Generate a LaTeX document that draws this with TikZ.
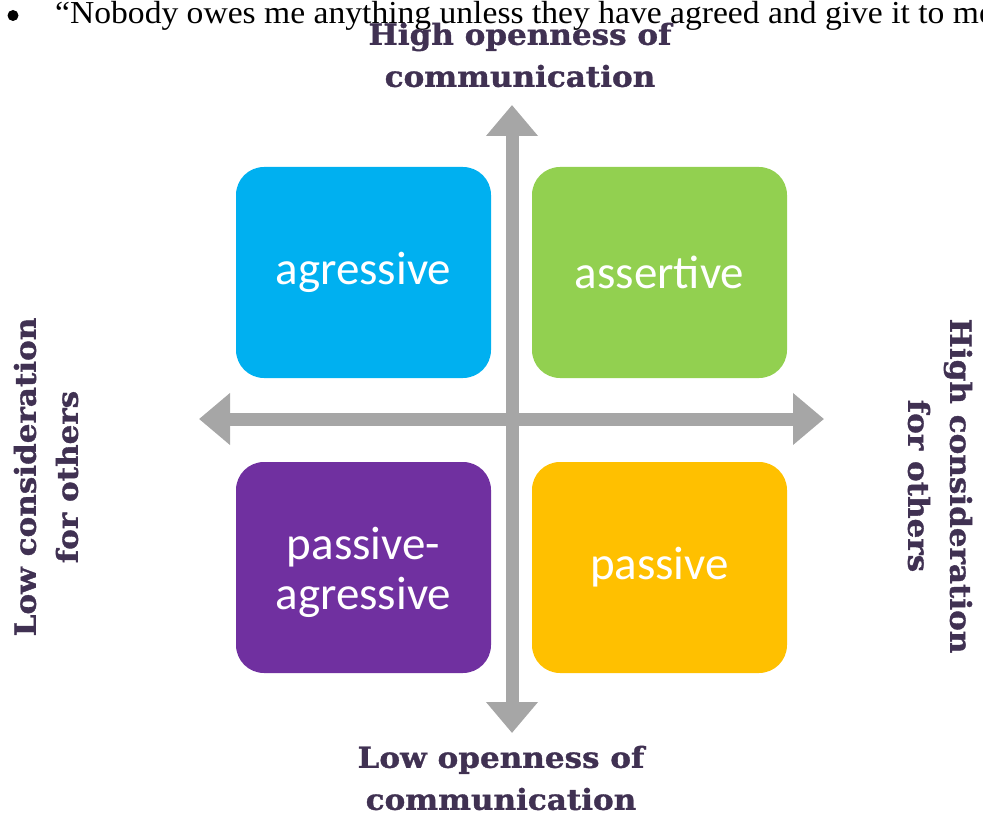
\documentclass[tikz,border=0pt]{standalone}
\usepackage{fontspec}
\usetikzlibrary{arrows.meta}
\setmainfont{Liberation Serif}[FakeStretch=1.05]
\newfontfamily\boxfont{Carlito}
\newfontfamily\axisfont{DejaVu Serif Bold}[FakeStretch=1.07, FakeBold=1.2]

\definecolor{aggrblue}{HTML}{00B0F0}
\definecolor{assertgreen}{HTML}{92D050}
\definecolor{pagpurple}{HTML}{7030A0}
\definecolor{passgold}{HTML}{FFC000}
\definecolor{axisgray}{HTML}{A6A6A6}
\definecolor{labelplum}{HTML}{403152}

\tikzset{
  x=1pt, y=-1pt,
  quadrant/.style={rounded corners=28pt, minimum width=255pt, minimum height=211pt,
    inner sep=0pt, text=white, align=center,
    font=\boxfont\fontsize{47}{50}\selectfont},
  axisarrow/.style={draw=axisgray, line width=13pt,
    {Triangle[width=50pt,length=31pt]}-{Triangle[width=50pt,length=31pt]}},
  axislabel/.style={text=labelplum, align=center, inner sep=0pt,
    font=\axisfont\fontsize{29}{42}\selectfont},
  bodytext/.style={inner sep=0pt, font=\fontsize{32}{38}\selectfont},
  bulletdot/.style={circle, fill=black, inner sep=0pt, minimum size=11pt}
}

\begin{document}
\begin{tikzpicture}
\useasboundingbox (0,0) rectangle (983,813);
\clip (0,0) rectangle (983,813);

% bullet line of the surrounding text
\node[bulletdot] (bullet) at (13,15.5) {};
\node[bodytext, anchor=base west] (quote) at (55,24)
  {“Nobody owes me anything unless they have agreed and give it to me};

% the four quadrants
\node[quadrant, fill=aggrblue]    (agr)  at (363.5,272.5) {agressive};
\node[quadrant, fill=assertgreen] (ass)  at (659.5,272.5) {assertive};
\node[quadrant, fill=pagpurple]   (pag)  at (363.5,567.5) {\rule{0pt}{42pt}passive-\\agressive};
\node[quadrant, fill=passgold]    (pas)  at (659.5,567.5) {passive};

% axes
\coordinate (up)    at (512,105);
\coordinate (down)  at (512,733);
\coordinate (left)  at (199,419);
\coordinate (right) at (824,419);
\draw[axisarrow] (down) -- (up);
\draw[axisarrow] (left) -- (right);

% axis labels
\node[axislabel] (toplab) at (520,55) {High openness of\\communication};
\node[axislabel] (botlab) at (501,778) {Low openness of\\communication};
\node[axislabel, rotate=90] (leftlab) at (46,477) {Low consideration\\for others};
\node[axislabel, rotate=-90] (rightlab) at (940,486) {High consideration\\for others};
\end{tikzpicture}
\end{document}
